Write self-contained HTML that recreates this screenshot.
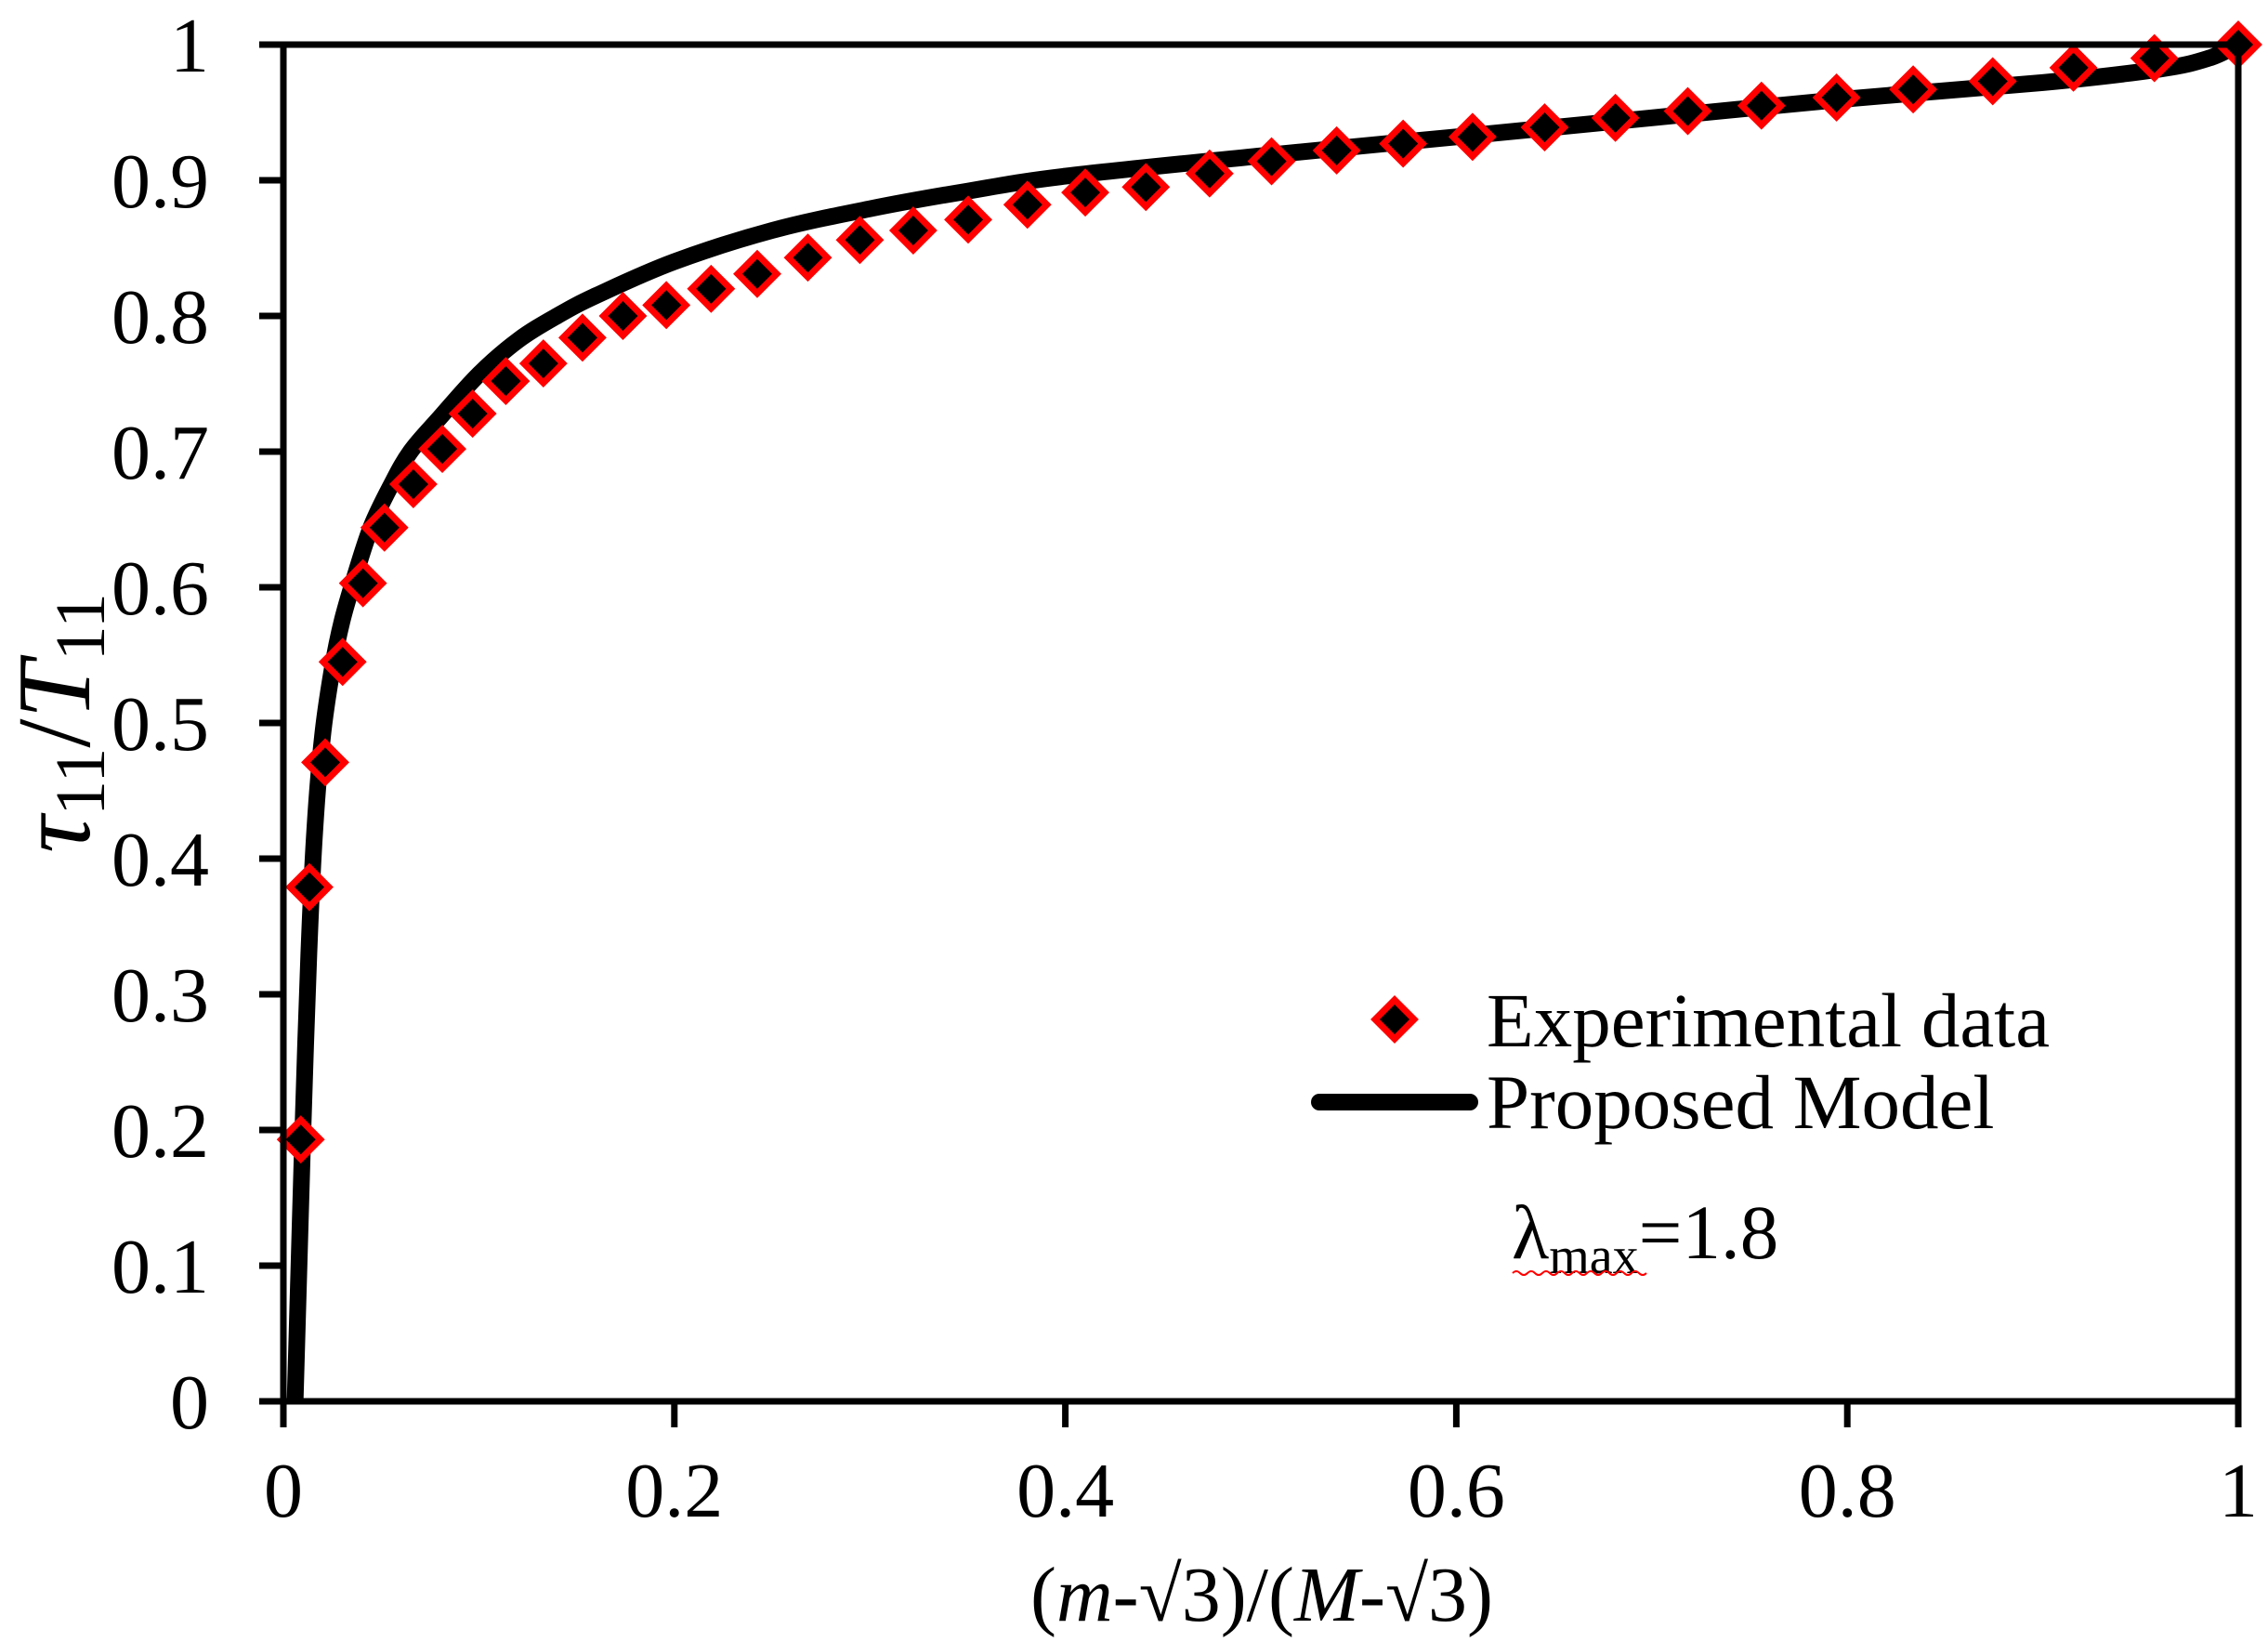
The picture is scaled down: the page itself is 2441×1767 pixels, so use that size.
<!DOCTYPE html>
<html><head><meta charset="utf-8"><style>
html,body{margin:0;padding:0;background:#fff}
svg{display:block;font-family:"Liberation Serif",serif}
</style></head><body>
<svg id="chart" width="2441" height="1767" viewBox="0 0 2441 1767" xmlns="http://www.w3.org/2000/svg">
<g id="plot"></g>
</svg>
<script>
const xTicks=[0,0.2,0.4,0.6,0.8,1];
const xTickLabels=["0","0.2","0.4","0.6","0.8","1"];
const yTicks=[0,0.1,0.2,0.3,0.4,0.5,0.6,0.7,0.8,0.9,1];
const yTickLabels=["0","0.1","0.2","0.3","0.4","0.5","0.6","0.7","0.8","0.9","1"];
const expX=[.0089,.0133,.0214,.0303,.0407,.0517,.0665,.0813,.0968,.1138,.133,.153,.1737,.1959,.2188,.2424,.2683,.2949,.3222,.3503,.3806,.4102,.4412,.4738,.5055,.5388,.5728,.6083,.6452,.6814,.7184,.7561,.7945,.8337,.8744,.9157,.9571,1];
const expY=[.193,.379,.471,.545,.603,.644,.676,.702,.728,.752,.765,.784,.800,.808,.820,.831,.843,.856,.863,.871,.882,.891,.895,.905,.914,.922,.927,.932,.939,.946,.951,.955,.961,.967,.973,.983,.990,1];
const modelX=[.006,.008,.01,.013,.016,.02,.025,.03,.037,.045,.055,.065,.08,.1,.12,.14,.16,.2,.25,.3,.35,.4,.5,.6,.7,.8,.9,.96,.985,1];
const modelY=[0,.1,.2,.33,.42,.49,.54,.575,.61,.645,.675,.70,.725,.757,.782,.80,.815,.84,.863,.879,.892,.903,.918,.932,.946,.96,.972,.982,.99,1];

const X0=305,X1=2409,Y0=1508,Y1=48;
const sx=v=>X0+(X1-X0)*v, sy=v=>Y0-(Y0-Y1)*v;
const NS="http://www.w3.org/2000/svg";
const svg=document.getElementById('chart');
function mk(tag,attrs,parent){const e=document.createElementNS(NS,tag);for(const k in attrs)e.setAttribute(k,attrs[k]);(parent||svg).appendChild(e);return e;}

const P=modelX.map((x,i)=>[sx(x),sy(modelY[i])]);
let d='M'+P[0][0]+','+P[0][1];
for(let i=0;i<P.length-1;i++){
  const p0=P[Math.max(i-1,0)],p1=P[i],p2=P[i+1],p3=P[Math.min(i+2,P.length-1)];
  const c1=[p1[0]+(p2[0]-p0[0])/6,p1[1]+(p2[1]-p0[1])/6];
  const c2=[p2[0]-(p3[0]-p1[0])/6,p2[1]-(p3[1]-p1[1])/6];
  d+=` C${c1[0].toFixed(1)},${c1[1].toFixed(1)} ${c2[0].toFixed(1)},${c2[1].toFixed(1)} ${p2[0].toFixed(1)},${p2[1].toFixed(1)}`;
}
const curve=mk('path',{d:d,fill:'none',stroke:'#000','stroke-width':18,'stroke-linejoin':'round'});



expX.forEach((x,i)=>{
  const cx=sx(x),cy=sy(expY[i]),r=21;
  const m=mk('path',{d:`M${cx},${cy-r} L${cx+r},${cy} L${cx},${cy+r} L${cx-r},${cy} Z`,fill:'#000',stroke:'#ff0000','stroke-width':7});
  
  
});

const fr=mk('rect',{x:X0,y:Y1,width:X1-X0,height:Y0-Y1,fill:'none',stroke:'#000','stroke-width':7});



xTicks.forEach((v,i)=>{
  const t=mk('line',{x1:sx(v),x2:sx(v),y1:Y0,y2:Y0+28,stroke:'#000','stroke-width':7});
  
  
  const l=mk('text',{x:sx(v),y:1632,'font-size':84,'text-anchor':'middle'});
  l.textContent=xTickLabels[i];
  
  
});
yTicks.forEach((v,i)=>{
  const t=mk('line',{x1:X0-26,x2:X0,y1:sy(v),y2:sy(v),stroke:'#000','stroke-width':7});
  
  
  const l=mk('text',{x:225,y:sy(v)+29,'font-size':84,'text-anchor':'end'});
  l.textContent=yTickLabels[i];
  
  
});
</script>
<svg style="position:absolute;left:0;top:0" width="2441" height="1767" xmlns="http://www.w3.org/2000/svg" font-family="Liberation Serif, serif">
<text x="1358" y="1744" font-size="84" text-anchor="middle">(<tspan font-style="italic">m</tspan>-√3)/(<tspan font-style="italic">M</tspan>-√3)</text>
<text transform="translate(96,778) rotate(-90)" font-size="112" text-anchor="middle"><tspan font-style="italic">τ</tspan><tspan font-size="76" dy="16">11</tspan><tspan dy="-16">/</tspan><tspan font-style="italic">T</tspan><tspan font-size="76" dy="16">11</tspan></text>
<g>
<path d="M1501,1076 L1522,1097 L1501,1118 L1480,1097 Z" fill="#000" stroke="#ff0000" stroke-width="7"/>
<text x="1600" y="1126" font-size="83">Experimental data</text>
<line x1="1420" y1="1186" x2="1582" y2="1186" stroke="#000" stroke-width="18" stroke-linecap="round"/>
<text x="1600" y="1214" font-size="83">Proposed Model</text>
</g>
<text x="1627" y="1354" font-size="83">λ<tspan font-size="56" dy="16">max</tspan><tspan dy="-16">=1.8</tspan></text>
<path d="M1628,1370 q4,-4 8,0 t8,0 t8,0 t8,0 t8,0 t8,0 t8,0 t8,0 t8,0 t8,0 t8,0 t8,0 t8,0 t8,0 t8,0 t8,0 t8,0 t8,0" fill="none" stroke="#ff0000" stroke-width="2"/>
</svg>
</body></html>
